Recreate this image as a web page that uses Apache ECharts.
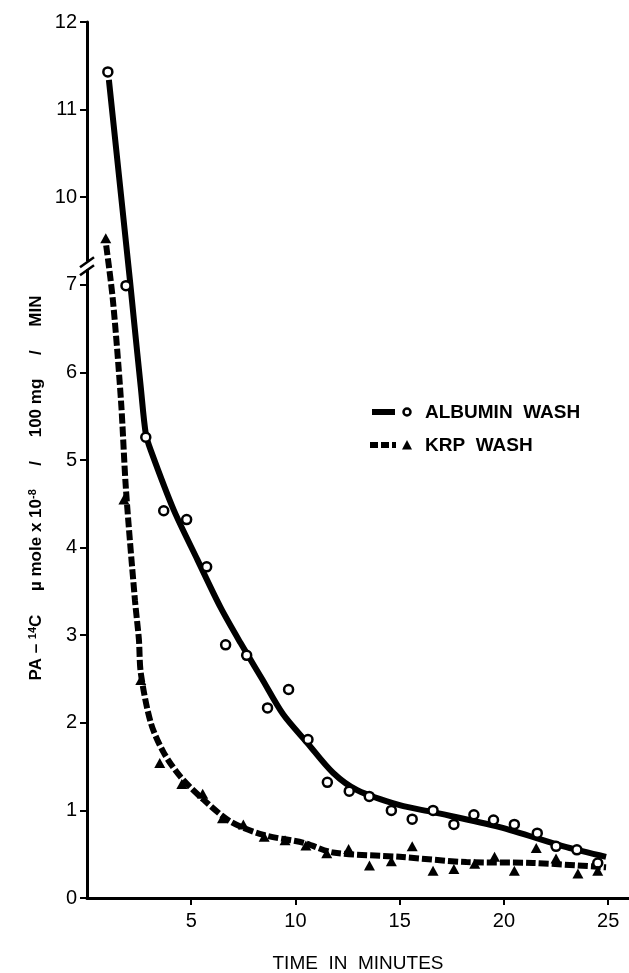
<!DOCTYPE html>
<html>
<head>
<meta charset="utf-8">
<title>PA-14C wash</title>
<script src="https://cdn.jsdelivr.net/npm/echarts@6.0.0/dist/echarts.min.js"></script>
<style>
  html, body { margin: 0; padding: 0; background: #fff; }
  #chart { width: 629px; height: 973px; }
</style>
</head>
<body>
<div id="chart"></div>
<script>
// measured points (minutes / value)
const albuminX = [1.0, 1.87, 2.82, 3.68, 4.78, 5.74, 6.65, 7.66, 8.66, 9.67, 10.6, 11.53, 12.58, 13.54, 14.6, 15.6, 16.6, 17.6, 18.56, 19.5, 20.5, 21.6, 22.5, 23.5, 24.5];
const albuminY = [11.43, 6.99, 5.26, 4.42, 4.32, 3.78, 2.89, 2.77, 2.17, 2.38, 1.81, 1.32, 1.22, 1.16, 1.0, 0.9, 1.0, 0.84, 0.95, 0.89, 0.84, 0.74, 0.59, 0.55, 0.40];
const krpX = [0.9, 1.77, 2.58, 3.49, 4.55, 5.55, 6.5, 7.5, 8.5, 9.5, 10.5, 11.5, 12.55, 13.55, 14.6, 15.6, 16.6, 17.6, 18.6, 19.55, 20.5, 21.55, 22.5, 23.55, 24.5];
const krpY = [9.53, 4.55, 2.49, 1.54, 1.30, 1.19, 0.91, 0.84, 0.70, 0.66, 0.60, 0.51, 0.56, 0.37, 0.42, 0.59, 0.31, 0.33, 0.39, 0.47, 0.31, 0.57, 0.45, 0.28, 0.31];

// hand drawn curves
const albuminCurveX = [1.05, 2.06, 2.25, 2.58, 2.82, 3.06, 4.16, 5.3, 6.4, 7.37, 8.4, 9.4, 10.57, 11.8, 12.97, 15.0, 16.6, 19.8, 23.0, 24.9];
const albuminCurveY = [11.34, 7.05, 6.6, 5.83, 5.3, 5.11, 4.43, 3.86, 3.32, 2.91, 2.5, 2.1, 1.77, 1.43, 1.23, 1.06, 0.98, 0.81, 0.58, 0.47];
const krpCurveX = [0.92, 1.24, 1.63, 1.87, 2.3, 2.49, 2.58, 3.06, 3.68, 4.5, 5.6, 6.9, 8.47, 10.4, 11.8, 15.0, 18.2, 21.4, 24.9];
const krpCurveY = [9.45, 6.83, 5.68, 4.66, 3.40, 2.95, 2.57, 2.0, 1.66, 1.38, 1.12, 0.87, 0.72, 0.63, 0.52, 0.47, 0.41, 0.40, 0.35];

const yTicks = [0, 1, 2, 3, 4, 5, 6, 7, 10, 11, 12];
const xTicks = [5, 10, 15, 20, 25];

// y axis is broken between 7 and 10, everything above the break slides down by 2
const toAxis = v => v > 8 ? v - 2 : v;
const pair = (xs, ys) => xs.map((x, i) => [x, toAxis(ys[i])]);

const font = '"Liberation Sans", Arial, sans-serif';
const chart = echarts.init(document.getElementById('chart'));

chart.setOption({
  animation: false,
  backgroundColor: '#fff',
  grid: { left: 87, right: 0, top: 22, bottom: 75, outerBoundsMode: 'none' },
  xAxis: {
    type: 'value', min: 0, max: 26,
    name: 'TIME  IN  MINUTES', nameLocation: 'middle', nameGap: 56,
    nameTextStyle: { color: '#000', fontSize: 19, fontFamily: font },
    axisLine: { lineStyle: { color: '#000', width: 3 } },
    axisTick: { customValues: xTicks, length: 7, lineStyle: { color: '#000', width: 2 } },
    axisLabel: { customValues: xTicks, color: '#000', fontSize: 20, fontFamily: font, margin: 13 },
    splitLine: { show: false }
  },
  yAxis: {
    type: 'value', min: 0, max: 10, interval: 1,
    axisLine: { lineStyle: { color: '#000', width: 3 } },
    axisTick: { length: 7, lineStyle: { color: '#000', width: 2 } },
    axisLabel: {
      color: '#000', fontSize: 20, fontFamily: font, margin: 10,
      formatter: v => { const t = yTicks.find(k => toAxis(k) === v); return t === undefined ? '' : String(t); }
    },
    splitLine: { show: false }
  },
  series: [
    {
      name: 'ALBUMIN WASH fit', type: 'line', data: pair(albuminCurveX, albuminCurveY),
      smooth: 0.3, symbol: 'none', silent: true, z: 2,
      lineStyle: { color: '#000', width: 6 }
    },
    {
      name: 'KRP WASH fit', type: 'line', data: pair(krpCurveX, krpCurveY),
      smooth: 0.3, symbol: 'none', silent: true, z: 2,
      lineStyle: { color: '#000', width: 6, type: [10, 3] }
    },
    {
      name: 'ALBUMIN WASH', type: 'scatter', data: pair(albuminX, albuminY),
      symbol: 'circle', symbolSize: 9, z: 3,
      itemStyle: { color: '#fff', borderColor: '#000', borderWidth: 2.5, opacity: 1 }
    },
    {
      name: 'KRP WASH', type: 'scatter', data: pair(krpX, krpY),
      symbol: 'triangle', symbolSize: [11, 10], z: 3,
      itemStyle: { color: '#000', opacity: 1 }
    }
  ]
});

// break marks on the y axis and a hand made legend
const b = chart.convertToPixel({ gridIndex: 0 }, [0, 7.2]);
const slash = dy => ({
  type: 'line', z: 10,
  shape: { x1: b[0] - 7, y1: b[1] + dy + 5, x2: b[0] + 7, y2: b[1] + dy - 5 },
  style: { stroke: '#000', lineWidth: 2.5 }
});

chart.setOption({
  graphic: [
    { type: 'rect', z: 9, shape: { x: b[0] - 3, y: b[1] - 6, width: 6, height: 8 }, style: { fill: '#fff' } },
    slash(-5), slash(3),
    {
      type: 'text', x: 36, y: 488, rotation: Math.PI / 2,
      style: {
        text: 'PA – {s|14}C     µ mole x 10{s|-8}     /     100 mg     /     MIN',
        fill: '#000', fontSize: 17, fontWeight: 'bold', fontFamily: font, align: 'center', verticalAlign: 'middle',
        rich: { s: { fontSize: 11, verticalAlign: 'top', fontFamily: font, fontWeight: 'bold' } }
      }
    },
    { type: 'line', shape: { x1: 372, y1: 412, x2: 395, y2: 412 }, style: { stroke: '#000', lineWidth: 6 } },
    { type: 'circle', shape: { cx: 407, cy: 412, r: 3.5 }, style: { fill: '#fff', stroke: '#000', lineWidth: 2.5 } },
    { type: 'text', x: 425, y: 413, style: { text: 'ALBUMIN  WASH', fill: '#000', fontSize: 19, fontWeight: 'bold', fontFamily: font, verticalAlign: 'middle' } },
    { type: 'line', shape: { x1: 370, y1: 445, x2: 396, y2: 445 }, style: { stroke: '#000', lineWidth: 6, lineDash: [8, 3] } },
    { type: 'polygon', shape: { points: [[407, 440], [402, 449.5], [412, 449.5]] }, style: { fill: '#000' } },
    { type: 'text', x: 425, y: 446, style: { text: 'KRP  WASH', fill: '#000', fontSize: 19, fontWeight: 'bold', fontFamily: font, verticalAlign: 'middle' } }
  ]
});
</script>
</body>
</html>
